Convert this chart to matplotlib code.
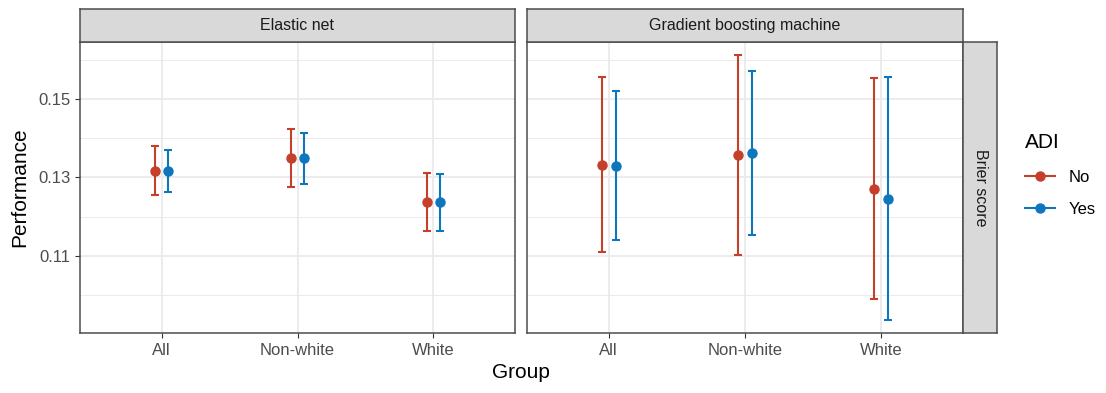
import matplotlib.pyplot as plt
from matplotlib.lines import Line2D
import numpy as np

groups = ['All', 'Non-white', 'White']
models = ['Elastic net', 'Gradient boosting machine']
metric = 'Brier score'
adi_levels = ['No', 'Yes']

# elastic net
en_no = [0.1317, 0.1349, 0.1237]
en_no_lo = [0.1255, 0.1274, 0.1162]
en_no_hi = [0.1379, 0.1424, 0.1311]
en_yes = [0.1316, 0.1349, 0.1236]
en_yes_lo = [0.1263, 0.1283, 0.1163]
en_yes_hi = [0.1369, 0.1414, 0.1309]

# gradient boosting machine
gbm_no = [0.1332, 0.1357, 0.1270]
gbm_no_lo = [0.1109, 0.1103, 0.0989]
gbm_no_hi = [0.1556, 0.1611, 0.1552]
gbm_yes = [0.1328, 0.1362, 0.1245]
gbm_yes_lo = [0.1140, 0.1154, 0.0937]
gbm_yes_hi = [0.1519, 0.1570, 0.1556]

colors = {'No': '#C4402B', 'Yes': '#0E76BC'}

panels = [
    {'No': (en_no, en_no_lo, en_no_hi), 'Yes': (en_yes, en_yes_lo, en_yes_hi)},
    {'No': (gbm_no, gbm_no_lo, gbm_no_hi), 'Yes': (gbm_yes, gbm_yes_lo, gbm_yes_hi)},
]

plt.rcParams['font.family'] = ['Liberation Sans', 'DejaVu Sans']

W, H = 1106, 393
fig = plt.figure(figsize=(W / 100, H / 100), dpi=100)

def box(x0, y0, x1, y1):
    return [x0 / W, 1 - y1 / H, (x1 - x0) / W, (y1 - y0) / H]

all_lo = min(min(en_no_lo), min(en_yes_lo), min(gbm_no_lo), min(gbm_yes_lo))
all_hi = max(max(en_no_hi), max(en_yes_hi), max(gbm_no_hi), max(gbm_yes_hi))
pad = (all_hi - all_lo) * 0.05
ylim = (all_lo - pad, all_hi + pad)

border = '#4D4D4D'
xs = np.arange(len(groups))
dodge = 0.05

panel_x = [(80, 515), (527, 963)]
top, bottom = 42, 333

for i, (x0, x1) in enumerate(panel_x):
    ax = fig.add_axes(box(x0, top, x1, bottom))
    ax.set_xlim(-0.6, len(groups) - 0.4)
    ax.set_ylim(*ylim)
    ax.set_yticks([0.11, 0.13, 0.15])
    ax.set_yticks([0.10, 0.12, 0.14, 0.16], minor=True)
    ax.set_xticks(xs)
    ax.set_xticklabels(groups)
    ax.grid(True, which='major', color='#EBEBEB', lw=1.3)
    ax.grid(True, which='minor', axis='y', color='#EBEBEB', lw=0.7)
    ax.set_axisbelow(True)
    for s in ax.spines.values():
        s.set_color(border)
        s.set_linewidth(1.1)
    ax.tick_params(axis='both', which='major', length=3.5, color='#333333',
                   labelsize=12, labelcolor='#4D4D4D', width=0.8)
    ax.tick_params(axis='y', which='minor', length=0)
    if i == 0:
        ax.set_yticklabels(['0.11', '0.13', '0.15'])
        ax.set_ylabel('Performance', fontsize=15, labelpad=6)
    else:
        ax.tick_params(axis='y', which='both', left=False, labelleft=False)
    for k, lvl in enumerate(adi_levels):
        est, lo, hi = panels[i][lvl]
        est = np.array(est)
        err = [est - np.array(lo), np.array(hi) - est]
        off = -dodge if k == 0 else dodge
        ax.errorbar(xs + off, est, yerr=err, fmt='o', color=colors[lvl],
                    ms=6.5, elinewidth=1.5, capsize=2.8, capthick=1.5, zorder=3)

    # top strip
    sax = fig.add_axes(box(x0, 9, x1, top))
    sax.set_facecolor('#D9D9D9')
    sax.set_xticks([])
    sax.set_yticks([])
    for s in sax.spines.values():
        s.set_color(border)
        s.set_linewidth(1.1)
    sax.text(0.5, 0.5, models[i], ha='center', va='center', fontsize=11.5,
             color='#1A1A1A', transform=sax.transAxes)

# right strip
rax = fig.add_axes(box(963, top, 997, bottom))
rax.set_facecolor('#D9D9D9')
rax.set_xticks([])
rax.set_yticks([])
for s in rax.spines.values():
    s.set_color(border)
    s.set_linewidth(1.1)
rax.text(0.5, 0.5, metric, ha='center', va='center', rotation=-90,
         fontsize=11.5, color='#1A1A1A', transform=rax.transAxes)

fig.text(521 / W, 1 - 373 / H, 'Group', ha='center', va='center', fontsize=15)

handles = [Line2D([0], [0], color=colors[l], marker='o', ms=6.5, lw=1.5) for l in adi_levels]
leg = fig.legend(handles, adi_levels, title='ADI', loc='center left',
                 bbox_to_anchor=(1010 / W, 1 - 175 / H), frameon=False,
                 fontsize=12, title_fontsize=15, handlelength=1.8,
                 labelspacing=1.05, handletextpad=0.8)
leg._legend_box.align = 'left'

fig.savefig('out.png', dpi=100)
